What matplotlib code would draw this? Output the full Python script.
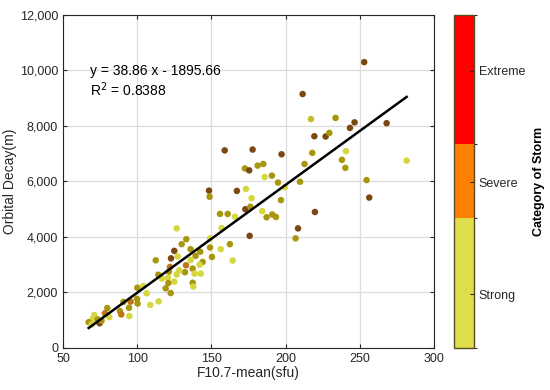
import numpy as np
import matplotlib.pyplot as plt
import matplotlib as mpl
from matplotlib.ticker import FuncFormatter

plt.rcParams['font.family'] = ['Liberation Sans', 'DejaVu Sans']

# F10.7 mean (sfu), orbital decay (m), storm colour class
# Y = yellow, L = light olive, O = olive, A = orange, B = brown
f107 = [253, 211.5, 281.6, 268.1, 246.5, 243.4, 233.7, 217.1, 219.4, 227.0,
        229.5, 218.0, 212.8, 209.7, 240.7, 238.0, 240.3, 254.6, 256.4, 159.0,
        177.8, 197.3, 172.6, 175.5, 181.2, 185.0, 185.9, 190.8, 194.9, 199.6,
        148.4, 148.8, 167.2, 173.3, 177.1, 196.9, 172.9, 176.3, 155.8, 161.0,
        165.9, 184.3, 187.2, 191.0, 193.5, 219.8, 208.4, 206.8, 175.8, 156.9,
        149.1, 149.1, 150.4, 156.3, 162.5, 164.3, 126.6, 133.1, 130.0, 136.0,
        142.5, 125.0, 127.3, 122.8, 136.0, 139.4, 144.1, 132.9, 137.4, 142.1,
        142.8, 138.7, 132.2, 128.4, 122.1, 121.4, 112.5, 114.2, 116.7, 120.8,
        125.0, 126.6, 121.0, 119.2, 122.6, 137.4, 137.8, 106.4, 114.5, 100.1,
        99.9, 100.3, 95.6, 90.7, 94.5, 94.7, 88.4, 89.3, 108.8, 104.1,
        79.9, 81.2, 78.3, 74.7, 71.1, 70.0, 67.3, 69.3, 73.4, 76.0]
decay = [10300, 9150, 6750, 8100, 8130, 7930, 8290, 8250, 7630, 7620,
         7750, 7030, 6630, 5990, 7090, 6780, 6490, 6050, 5420, 7120,
         7150, 6980, 6470, 6400, 6570, 6630, 6160, 6210, 5960, 5790,
         5670, 5450, 5660, 5730, 5400, 5330, 5000, 5090, 4830, 4830,
         4730, 4930, 4710, 4810, 4720, 4900, 4310, 3950, 4040, 4320,
         3950, 3620, 3280, 3560, 3740, 3150, 4310, 3920, 3740, 3560,
         3470, 3500, 3300, 3230, 3170, 3320, 3100, 2980, 2860, 3000,
         2680, 2680, 2730, 2800, 2920, 2750, 3160, 2640, 2500, 2530,
         2390, 2650, 2340, 2150, 1980, 2350, 2210, 1970, 1680, 2170,
         1770, 1600, 1670, 1660, 1450, 1150, 1330, 1210, 1550, 2230,
         1440, 1110, 1250, 890, 1190, 1050, 930, 850, 1030, 980]
cls = list('BBYBBBOLBB'
           'OOOOYOOOBB'
           'BBOBOOYOOY'
           'BOBYYOBOOO'
           'YYOOOBBOBY'
           'YOOYOYYOOO'
           'OBYBYOOAOY'
           'YYOYAOOOYY'
           'YYOOOOYYYO'
           'OOAOOYOAYY'
           'OYABYYOYOO')

slope, intercept, r2 = 38.86, -1895.66, 0.8388

cls_colors = {'Y': '#d6d63e', 'L': '#c4bc2c', 'O': '#a8960e',
              'A': '#c07412', 'B': '#7c4812'}

fig = plt.figure(figsize=(5.5, 3.9), dpi=100)
ax = fig.add_axes([0.1145, 0.1077, 0.6745, 0.854])

ax.grid(True, color='#dcdcdc', linewidth=0.9, zorder=0)
ax.scatter(f107, decay, s=22, c=[cls_colors[k] for k in cls],
           edgecolors='none', zorder=3)

xl = np.array([min(f107), max(f107)])
ax.plot(xl, slope * xl + intercept, color='black', linewidth=1.8, zorder=4)

ax.text(68, 9990, 'y = 38.86 x - 1895.66', fontsize=10, va='center')
ax.text(68, 9300, r'R$^{2}$ = %.4f' % r2, fontsize=10, va='center')

ax.set_xlim(50, 300)
ax.set_ylim(0, 12000)
ax.set_xticks(range(50, 301, 50))
ax.set_yticks(range(0, 12001, 2000))
ax.yaxis.set_major_formatter(FuncFormatter(lambda v, p: f'{int(v):,}'))
ax.tick_params(direction='in', length=3, labelsize=9, colors='#262626',
               top=True, right=True)
for s in ax.spines.values():
    s.set_color('#262626')
    s.set_linewidth(0.8)
ax.set_xlabel('F10.7-mean(sfu)', fontsize=10, labelpad=1, color='#262626')
ax.set_ylabel('Orbital Decay(m)', fontsize=10, labelpad=2, color='#262626')

# colorbar
cax = fig.add_axes([0.8255, 0.1077, 0.036, 0.854])
bar_colors = ['#dede4c', '#ff8000', '#ff0000']
bounds = [0, 0.39, 0.613, 1]
cmap = mpl.colors.ListedColormap(bar_colors)
norm = mpl.colors.BoundaryNorm(bounds, cmap.N)
cb = fig.colorbar(mpl.cm.ScalarMappable(norm=norm, cmap=cmap), cax=cax,
                  spacing='proportional')
cb.set_ticks([0.162, 0.498, 0.832])
cb.set_ticklabels(['Strong', 'Severe', 'Extreme'])
cb.ax.tick_params(direction='in', length=3, labelsize=9, colors='#262626')
cb.outline.set_edgecolor('#5a4a20')
cb.outline.set_linewidth(1.0)
cb.set_label('Category of Storm', fontsize=9, fontweight='bold', labelpad=6)

fig.savefig('out.png', dpi=100)
